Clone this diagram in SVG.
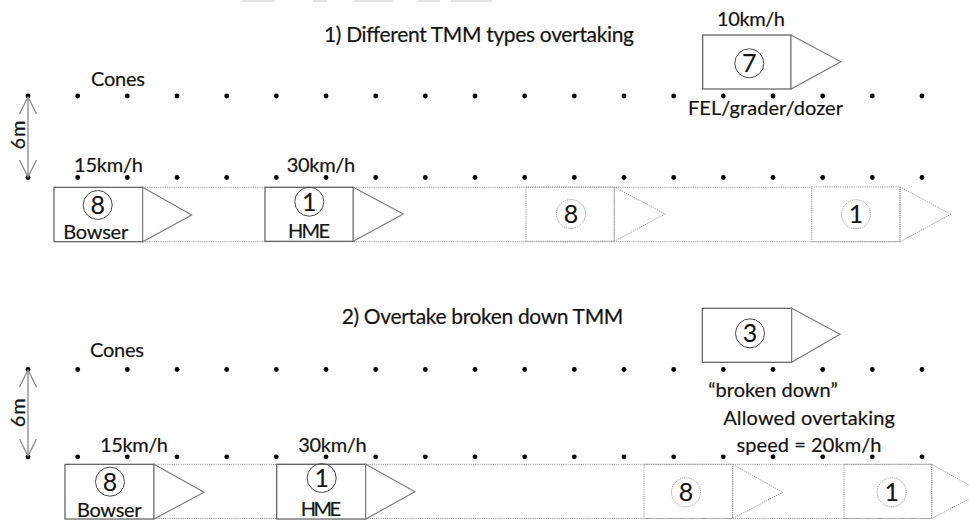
<svg xmlns="http://www.w3.org/2000/svg" width="969" height="526" viewBox="0 0 969 526">
<defs>
<style>
text{font-family:Lato,"Liberation Sans",sans-serif;fill:#141414;stroke:#141414;stroke-width:0.2;font-size:20px}
.t{font-size:21px}
.c{text-anchor:middle}
.num{font-size:25px;text-anchor:middle;stroke-width:0.1}
.box{fill:#fff;stroke:#5a5a5a;stroke-width:1.2}
.tri{fill:#fff;stroke:#7a7a7a;stroke-width:1.1}
.ring{fill:none;stroke:#4a4a4a;stroke-width:1}
.ghost{fill:none;stroke:#9a9a9a;stroke-width:1;stroke-dasharray:1.2 1}
.lane{fill:none;stroke:#a0a0a0;stroke-width:1;stroke-dasharray:1.2 1}
.cone{fill:#000}
.dim{stroke:#8a8a8a;stroke-width:1.3;fill:none;marker-start:url(#chev);marker-end:url(#chev)}
.bar{fill:#e6e6e6}
</style>
<marker id="chev" markerUnits="userSpaceOnUse" markerWidth="22" markerHeight="22" viewBox="-20 -11 22 22" refX="0" refY="0" orient="auto-start-reverse" overflow="visible">
<path d="M-17,-8.5 L0,0 L-17,8.5" fill="none" stroke="#8a8a8a" stroke-width="1.3"/>
</marker>
<circle id="dot" r="2.4" class="cone"/>
</defs>
<rect width="969" height="526" fill="#fff"/>
<g id="topbars">
<rect class="bar" x="242" y="0" width="33" height="2"/>
<rect class="bar" x="313" y="0" width="14" height="2"/>
<rect class="bar" x="354" y="0" width="39" height="2"/>
<rect class="bar" x="418" y="0" width="22" height="2"/>
<rect class="bar" x="451" y="0" width="41" height="2"/>
</g>
<text id="title1" class="t c" x="479" y="42" textLength="310">1) Different TMM types overtaking</text>
<text id="title2" class="t c" x="482.5" y="324.3" textLength="281.6">2) Overtake broken down TMM</text>
<g id="cones1">
<text class="c" x="118" y="86" textLength="54">Cones</text>
<g id="row1a">
<use href="#dot" x="28" y="96"/><use href="#dot" x="77.7" y="96"/><use href="#dot" x="127.3" y="96"/><use href="#dot" x="177" y="96"/><use href="#dot" x="226.7" y="96"/><use href="#dot" x="276.3" y="96"/><use href="#dot" x="326" y="96"/><use href="#dot" x="375.7" y="96"/><use href="#dot" x="425.3" y="96"/><use href="#dot" x="475" y="96"/><use href="#dot" x="524.7" y="96"/><use href="#dot" x="574.3" y="96"/><use href="#dot" x="624" y="96"/><use href="#dot" x="673.7" y="96"/><use href="#dot" x="723.3" y="96"/><use href="#dot" x="773" y="96"/><use href="#dot" x="822.7" y="96"/><use href="#dot" x="872.3" y="96"/><use href="#dot" x="922" y="96"/>
</g>
<g id="row1b">
<use href="#dot" x="28" y="177.5"/><use href="#dot" x="77.7" y="177.5"/><use href="#dot" x="127.3" y="177.5"/><use href="#dot" x="177" y="177.5"/><use href="#dot" x="226.7" y="177.5"/><use href="#dot" x="276.3" y="177.5"/><use href="#dot" x="326" y="177.5"/><use href="#dot" x="375.7" y="177.5"/><use href="#dot" x="425.3" y="177.5"/><use href="#dot" x="475" y="177.5"/><use href="#dot" x="524.7" y="177.5"/><use href="#dot" x="574.3" y="177.5"/><use href="#dot" x="624" y="177.5"/><use href="#dot" x="673.7" y="177.5"/><use href="#dot" x="723.3" y="177.5"/><use href="#dot" x="773" y="177.5"/><use href="#dot" x="822.7" y="177.5"/><use href="#dot" x="872.3" y="177.5"/><use href="#dot" x="922" y="177.5"/>
</g>
</g>
<g id="cones2">
<text class="c" x="117" y="357.3" textLength="54">Cones</text>
<g id="row2a">
<use href="#dot" x="28" y="369.5"/><use href="#dot" x="77.7" y="369.5"/><use href="#dot" x="127.3" y="369.5"/><use href="#dot" x="177" y="369.5"/><use href="#dot" x="226.7" y="369.5"/><use href="#dot" x="276.3" y="369.5"/><use href="#dot" x="326" y="369.5"/><use href="#dot" x="375.7" y="369.5"/><use href="#dot" x="425.3" y="369.5"/><use href="#dot" x="475" y="369.5"/><use href="#dot" x="524.7" y="369.5"/><use href="#dot" x="574.3" y="369.5"/><use href="#dot" x="624" y="369.5"/><use href="#dot" x="673.7" y="369.5"/><use href="#dot" x="723.3" y="369.5"/><use href="#dot" x="773" y="369.5"/><use href="#dot" x="822.7" y="369.5"/><use href="#dot" x="872.3" y="369.5"/><use href="#dot" x="922" y="369.5"/>
</g>
<g id="row2b">
<use href="#dot" x="28" y="456.8"/><use href="#dot" x="77.7" y="456.8"/><use href="#dot" x="127.3" y="456.8"/><use href="#dot" x="177" y="456.8"/><use href="#dot" x="226.7" y="456.8"/><use href="#dot" x="276.3" y="456.8"/><use href="#dot" x="326" y="456.8"/><use href="#dot" x="375.7" y="456.8"/><use href="#dot" x="425.3" y="456.8"/><use href="#dot" x="475" y="456.8"/><use href="#dot" x="524.7" y="456.8"/><use href="#dot" x="574.3" y="456.8"/><use href="#dot" x="624" y="456.8"/><use href="#dot" x="673.7" y="456.8"/><use href="#dot" x="723.3" y="456.8"/><use href="#dot" x="773" y="456.8"/><use href="#dot" x="822.7" y="456.8"/><use href="#dot" x="872.3" y="456.8"/><use href="#dot" x="922" y="456.8"/>
</g>
</g>
<g id="connectors">
<line class="dim" x1="28" y1="97" x2="28" y2="177"/>
<line class="dim" x1="28" y1="370" x2="28" y2="456"/>
<path class="lane" d="M142.7,187.3 H812 M142.7,241.7 H900"/>
<path class="lane" d="M154,464.3 H931.7 M154,518.5 H931.7"/>
</g>
<text id="dim1-label" x="25" y="135" class="c" transform="rotate(-90 25 135)" textLength="29">6m</text>
<text id="dim2-label" x="25.5" y="412.7" class="c" transform="rotate(-90 25.5 412.7)" textLength="29">6m</text>
<g id="s1-bowser">
<text class="c" x="108.5" y="171.7" textLength="69">15km/h</text>
<rect class="box" x="54" y="187.3" width="88.7" height="54.4"/>
<polygon class="tri" points="142.7,187.3 191.7,215 142.7,241.7"/>
<circle class="ring" cx="97.7" cy="205" r="14.5"/>
<text class="num" x="97.7" y="214">8</text>
<text class="c" x="95.7" y="239" textLength="65">Bowser</text>
</g>
<g id="s1-hme">
<text class="c" x="321" y="171.7" textLength="68.5">30km/h</text>
<rect class="box" x="265" y="187.3" width="88.3" height="54"/>
<polygon class="tri" points="353.3,187.3 403.3,214 353.3,241.3"/>
<circle class="ring" cx="309.3" cy="201.7" r="14.5"/>
<text class="num" x="309.3" y="210.7">1</text>
<text class="c" x="309" y="238.3" textLength="42">HME</text>
</g>
<g id="s1-ghost8">
<rect class="ghost" x="526" y="186.9" width="88.3" height="54.4"/>
<polygon class="ghost" points="614.3,186.9 665,214 614.3,241.3"/>
<circle class="ghost" cx="571" cy="214" r="14.5"/>
<text class="num" x="571" y="223">8</text>
</g>
<g id="s1-ghost1">
<rect class="ghost" x="811.7" y="186.9" width="88.3" height="54.8"/>
<polygon class="ghost" points="900,186.9 950.7,214.3 900,241.7"/>
<circle class="ghost" cx="856" cy="214.3" r="14.5"/>
<text class="num" x="856" y="223.3">1</text>
</g>
<g id="s1-fel">
<text class="c" x="751" y="26" textLength="68">10km/h</text>
<rect class="box" x="702.7" y="35" width="88.3" height="54"/>
<polygon class="tri" points="791,35 841,61.7 791,89"/>
<circle class="ring" cx="749.3" cy="63.3" r="14.5"/>
<text class="num" x="749.3" y="72.3">7</text>
<text class="c" x="765.5" y="115" textLength="155">FEL/grader/dozer</text>
</g>
<g id="s2-bowser">
<text class="c" x="134" y="451.7" textLength="68">15km/h</text>
<rect class="box" x="65" y="464.3" width="89" height="54.7"/>
<polygon class="tri" points="154,464.3 204,492.3 154,519"/>
<circle class="ring" cx="110" cy="481.7" r="14.5"/>
<text class="num" x="110" y="490.7">8</text>
<text class="c" x="109.3" y="516.7" textLength="64.7">Bowser</text>
</g>
<g id="s2-hme">
<text class="c" x="332.5" y="451.7" textLength="68.4">30km/h</text>
<rect class="box" x="276.7" y="464.3" width="89" height="54.7"/>
<polygon class="tri" points="365.7,464.3 415,491.7 365.7,519"/>
<circle class="ring" cx="321.7" cy="478" r="14.5"/>
<text class="num" x="321.7" y="487">1</text>
<text class="c" x="321" y="515.7" textLength="40.3">HME</text>
</g>
<g id="s2-ghost8">
<rect class="ghost" x="644" y="464.3" width="88.7" height="54.2"/>
<polygon class="ghost" points="732.7,464.3 782.7,492.3 732.7,518.5"/>
<circle class="ghost" cx="686" cy="492.3" r="14.5"/>
<text class="num" x="686" y="501.3">8</text>
</g>
<g id="s2-ghost1">
<rect class="ghost" x="844" y="464.3" width="87.7" height="54.2"/>
<polygon class="ghost" points="931.7,464.3 982,492.3 931.7,518.5"/>
<circle class="ghost" cx="891.7" cy="492.3" r="14.5"/>
<text class="num" x="891.7" y="501.3">1</text>
</g>
<g id="s2-broken">
<rect class="box" x="702.3" y="308.3" width="89.4" height="54"/>
<polygon class="tri" points="791.7,308.3 840,334.3 791.7,362.3"/>
<circle class="ring" cx="750" cy="333.3" r="14.5"/>
<text class="num" x="750" y="342.3">3</text>
<text class="c" x="773" y="396.7" textLength="129.4">“broken down”</text>
<text class="c" x="809" y="425" textLength="171.7">Allowed overtaking</text>
<text class="c" x="809" y="451.7" textLength="145">speed = 20km/h</text>
</g>
</svg>
